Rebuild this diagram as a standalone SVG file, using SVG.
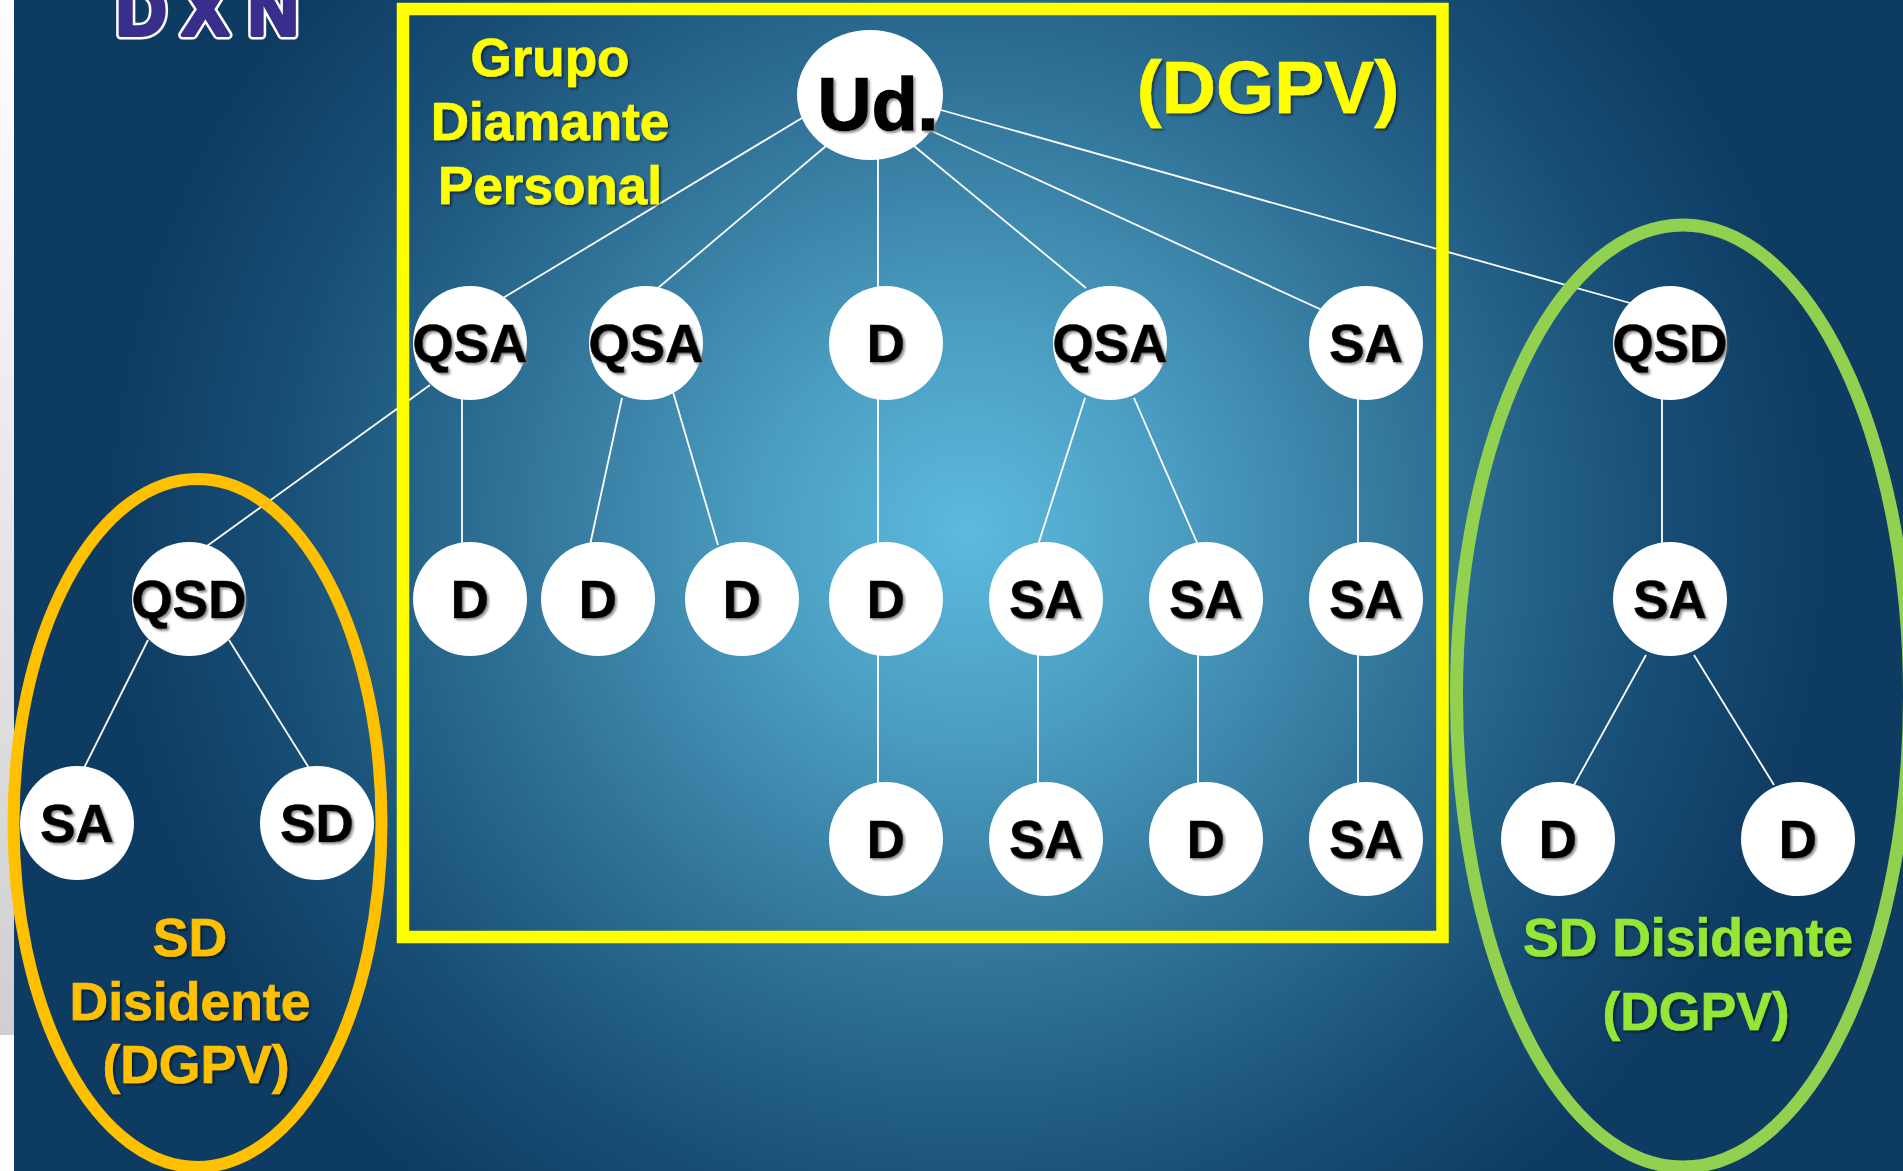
<svg xmlns="http://www.w3.org/2000/svg" width="1903" height="1171" viewBox="0 0 1903 1171">
<defs>
<radialGradient id="bg" gradientUnits="userSpaceOnUse" cx="968" cy="532" r="860" gradientTransform="translate(968 532) scale(1 .98) translate(-968 -532)">
<stop offset="0" stop-color="#5cbbdd"/><stop offset="0.25" stop-color="#4a9cc0"/><stop offset="0.55" stop-color="#2f7095"/><stop offset="0.8" stop-color="#184f77"/><stop offset="1" stop-color="#0e3b62"/>
</radialGradient>
<linearGradient id="strip" x1="0" y1="0" x2="0" y2="1"><stop offset="0" stop-color="#fff"/><stop offset="1" stop-color="#cfcfcf"/></linearGradient>
<filter id="sh" x="-10%" y="-10%" width="125%" height="125%"><feDropShadow dx="2" dy="2" stdDeviation="1.2" flood-color="#000" flood-opacity="0.5"/></filter>
<filter id="sw" x="-10%" y="-10%" width="125%" height="125%"><feDropShadow dx="2" dy="2" stdDeviation="1.2" flood-color="#777" flood-opacity="0.8"/></filter>
</defs>
<style>
text{font-family:"Liberation Sans",Arial,sans-serif;font-weight:700;text-anchor:middle;stroke-width:.7px}
.n{fill:#fff}
.l{font-size:53px;fill:#000;stroke:#000;filter:url(#sw)}
.c line{stroke:#fff;stroke-width:1.8}
.y{font-size:53px;fill:#ff0;stroke:#ff0;filter:url(#sh)}
.o{font-size:53.5px;fill:#ffc000;stroke:#ffc000;filter:url(#sh)}
.g{font-size:53.5px;fill:#96e636;stroke:#96e636;filter:url(#sh)}
.lg{font-size:70px;text-anchor:start;stroke-linejoin:round}
</style>
<rect width="1903" height="1171" fill="#fff"/>
<rect x="0" y="0" width="14" height="1035" fill="url(#strip)"/>
<rect x="14" width="1889" height="1171" fill="url(#bg)"/>
<g id="logo">
<text class="lg" x="116 182 248" y="35" fill="none" stroke="#fff" style="stroke-width:9px">DXN</text>
<text class="lg" x="116 182 248" y="35" fill="#3a2e8c" stroke="#3a2e8c" style="stroke-width:4px">DXN</text>
</g>
<g class="c" id="connectors">
<line x1="802" y1="118" x2="503" y2="298"/>
<line x1="826" y1="146" x2="658" y2="288"/>
<line x1="878" y1="158" x2="878" y2="288"/>
<line x1="914" y1="146" x2="1086" y2="288"/>
<line x1="925" y1="128" x2="1322" y2="310"/>
<line x1="941" y1="110" x2="1630" y2="303"/>
<line x1="430" y1="385" x2="207" y2="546"/>
<line x1="462" y1="398" x2="462" y2="545"/>
<line x1="622" y1="398" x2="590" y2="545"/>
<line x1="673" y1="392" x2="718" y2="545"/>
<line x1="878" y1="398" x2="878" y2="545"/>
<line x1="1085" y1="398" x2="1038" y2="545"/>
<line x1="1134" y1="398" x2="1198" y2="545"/>
<line x1="1358" y1="398" x2="1358" y2="545"/>
<line x1="1662" y1="398" x2="1662" y2="545"/>
<line x1="878" y1="655" x2="878" y2="785"/>
<line x1="1038" y1="655" x2="1038" y2="785"/>
<line x1="1198" y1="655" x2="1198" y2="785"/>
<line x1="1358" y1="655" x2="1358" y2="785"/>
<line x1="148" y1="640" x2="84" y2="768"/>
<line x1="229" y1="640" x2="309" y2="768"/>
<line x1="1646" y1="655" x2="1574" y2="785"/>
<line x1="1694" y1="655" x2="1774" y2="785"/>
</g>
<rect id="frame" x="403" y="9" width="1039.5" height="928" fill="none" stroke="#ff0" stroke-width="12.5"/>
<ellipse id="orange" cx="197.5" cy="823" rx="184" ry="344" fill="none" stroke="#ffc000" stroke-width="12"/>
<ellipse id="green" cx="1683" cy="696" rx="226.5" ry="471" fill="none" stroke="#92d050" stroke-width="13"/>
<g id="ud"><ellipse class="n" cx="870" cy="95" rx="73" ry="65"/><text class="l" x="878" y="130" style="font-size:75px;stroke-width:1.5px">Ud.</text></g>
<g id="n1"><circle class="n" cx="470" cy="343" r="57"/><text class="l" x="470" y="362">QSA</text></g>
<g id="n2"><circle class="n" cx="646" cy="343" r="57"/><text class="l" x="646" y="362">QSA</text></g>
<g id="n3"><circle class="n" cx="886" cy="343" r="57"/><text class="l" x="886" y="362">D</text></g>
<g id="n4"><circle class="n" cx="1110" cy="343" r="57"/><text class="l" x="1110" y="362">QSA</text></g>
<g id="n5"><circle class="n" cx="1366" cy="343" r="57"/><text class="l" x="1366" y="362">SA</text></g>
<g id="n6"><circle class="n" cx="1670" cy="343" r="57"/><text class="l" x="1670" y="362">QSD</text></g>
<g id="n7"><circle class="n" cx="189" cy="599" r="57"/><text class="l" x="189" y="618">QSD</text></g>
<g id="n8"><circle class="n" cx="470" cy="599" r="57"/><text class="l" x="470" y="618">D</text></g>
<g id="n9"><circle class="n" cx="598" cy="599" r="57"/><text class="l" x="598" y="618">D</text></g>
<g id="n10"><circle class="n" cx="742" cy="599" r="57"/><text class="l" x="742" y="618">D</text></g>
<g id="n11"><circle class="n" cx="886" cy="599" r="57"/><text class="l" x="886" y="618">D</text></g>
<g id="n12"><circle class="n" cx="1046" cy="599" r="57"/><text class="l" x="1046" y="618">SA</text></g>
<g id="n13"><circle class="n" cx="1206" cy="599" r="57"/><text class="l" x="1206" y="618">SA</text></g>
<g id="n14"><circle class="n" cx="1366" cy="599" r="57"/><text class="l" x="1366" y="618">SA</text></g>
<g id="n15"><circle class="n" cx="1670" cy="599" r="57"/><text class="l" x="1670" y="618">SA</text></g>
<g id="n16"><circle class="n" cx="77" cy="823" r="57"/><text class="l" x="77" y="842">SA</text></g>
<g id="n17"><circle class="n" cx="317" cy="823" r="57"/><text class="l" x="317" y="842">SD</text></g>
<g id="n18"><circle class="n" cx="886" cy="839" r="57"/><text class="l" x="886" y="858">D</text></g>
<g id="n19"><circle class="n" cx="1046" cy="839" r="57"/><text class="l" x="1046" y="858">SA</text></g>
<g id="n20"><circle class="n" cx="1206" cy="839" r="57"/><text class="l" x="1206" y="858">D</text></g>
<g id="n21"><circle class="n" cx="1366" cy="839" r="57"/><text class="l" x="1366" y="858">SA</text></g>
<g id="n22"><circle class="n" cx="1558" cy="839" r="57"/><text class="l" x="1558" y="858">D</text></g>
<g id="n23"><circle class="n" cx="1798" cy="839" r="57"/><text class="l" x="1798" y="858">D</text></g>
<g id="t1"><text class="y" x="550" y="76">Grupo</text><text class="y" x="550" y="140">Diamante</text><text class="y" x="550" y="204">Personal</text></g>
<text id="t2" class="y" x="1268" y="113" style="font-size:75px">(DGPV)</text>
<g id="t3"><text class="o" x="190" y="956">SD</text><text class="o" x="190" y="1020">Disidente</text><text class="o" x="196" y="1083">(DGPV)</text></g>
<g id="t4"><text class="g" x="1688" y="956">SD Disidente</text><text class="g" x="1696" y="1030">(DGPV)</text></g>
</svg>
